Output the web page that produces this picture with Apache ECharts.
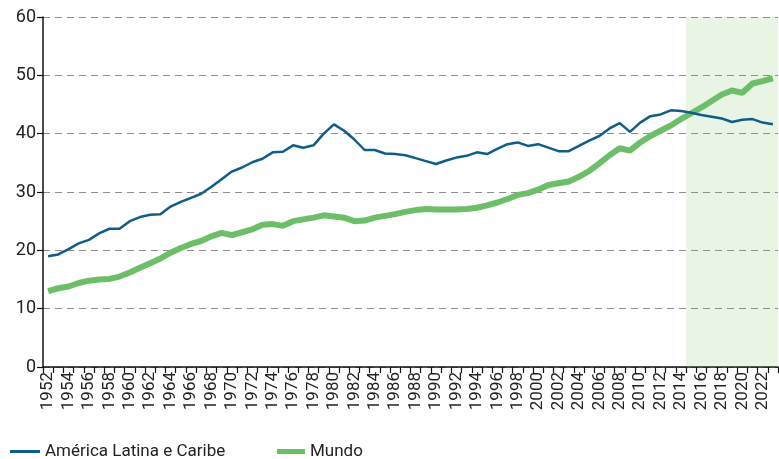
<!DOCTYPE html>
<html>
<head>
<meta charset="utf-8">
<script src="https://cdn.jsdelivr.net/npm/echarts@6/dist/echarts.min.js"></script>
<style>
html,body{margin:0;padding:0;background:#fff;}
#chart{width:779px;height:459px;}
</style>
</head>
<body>
<div id="chart"></div>
<script>
const years = [];
for (let y = 1952; y <= 2023; y++) years.push(String(y));

const americaLatina = [
  19.0, 19.3, 20.2, 21.2, 21.8, 22.9, 23.7, 23.7, 25.0, 25.7,
  26.1, 26.2, 27.5, 28.3, 29.0, 29.7, 30.9, 32.2, 33.5, 34.2,
  35.1, 35.7, 36.8, 36.9, 38.0, 37.6, 38.0, 40.0, 41.6, 40.5,
  39.0, 37.2, 37.2, 36.6, 36.5, 36.3, 35.8, 35.3, 34.8, 35.4,
  35.9, 36.2, 36.8, 36.5, 37.4, 38.2, 38.5, 37.9, 38.2, 37.6,
  37.0, 37.0, 37.9, 38.8, 39.6, 40.9, 41.8, 40.3, 41.9, 43.0,
  43.3, 44.0, 43.9, 43.6, 43.2, 42.9, 42.6, 42.0, 42.4, 42.5,
  41.9, 41.6
];

const mundo = [
  13.0, 13.5, 13.8, 14.4, 14.8, 15.0, 15.1, 15.5, 16.2, 17.0,
  17.8, 18.6, 19.6, 20.4, 21.1, 21.6, 22.4, 23.0, 22.6, 23.1,
  23.6, 24.4, 24.5, 24.2, 25.0, 25.3, 25.6, 26.0, 25.8, 25.6,
  25.0, 25.1, 25.6, 25.9, 26.2, 26.6, 26.9, 27.1, 27.0, 27.0,
  27.0, 27.1, 27.3, 27.7, 28.2, 28.8, 29.5, 29.8, 30.4, 31.2,
  31.5, 31.8, 32.6, 33.6, 34.9, 36.3, 37.5, 37.1, 38.5, 39.6,
  40.5, 41.4, 42.5, 43.5, 44.5, 45.6, 46.7, 47.4, 47.0, 48.6,
  49.0, 49.5
];

const yTicks = [0, 10, 20, 30, 40, 50, 60];
const shadeFrom = 2015;
const yMax = 60;

const FONT = "Roboto, 'Liberation Sans', sans-serif";
const BLUE = '#0f5d89';
const GREEN = '#6cbf68';

const shadeData = years.map(y => (Number(y) >= shadeFrom ? yMax : null));

const chart = echarts.init(document.getElementById('chart'), null, {renderer: 'canvas'});
chart.setOption({
  animation: false,
  backgroundColor: '#ffffff',
  grid: {left: 43, right: 1, top: 17, bottom: 92, containLabel: false},
  legend: [
    {
      data: [{name: 'América Latina e Caribe', icon: 'rect'}],
      left: 10, top: 443, padding: 0,
      itemWidth: 30, itemHeight: 3, itemGap: 6,
      textStyle: {fontFamily: FONT, fontSize: 17, color: '#222'}
    },
    {
      data: [{name: 'Mundo', icon: 'rect'}],
      left: 277, top: 443, padding: 0,
      itemWidth: 28, itemHeight: 5, itemGap: 6,
      textStyle: {fontFamily: FONT, fontSize: 17, color: '#222'}
    }
  ],
  xAxis: {
    type: 'category',
    data: years,
    boundaryGap: true,
    axisLine: {show: true, lineStyle: {color: '#111', width: 1.5}},
    axisTick: {show: true, interval: 0, length: 6, lineStyle: {color: '#111', width: 1.2}},
    axisLabel: {
      interval: 1, rotate: 90, margin: 5,
      fontFamily: FONT, fontSize: 17, color: '#222'
    },
    splitLine: {show: false}
  },
  yAxis: {
    type: 'value',
    min: 0, max: yMax, interval: 10,
    axisLine: {show: true, lineStyle: {color: '#111', width: 1.5}},
    axisTick: {show: true, length: 6, lineStyle: {color: '#111', width: 1.2}},
    axisLabel: {
      margin: 7, fontFamily: FONT, fontSize: 18, color: '#222',
      formatter: v => (yTicks.includes(v) ? String(v) : '')
    },
    splitLine: {show: true, lineStyle: {color: '#8c8c8c', type: [7, 5], width: 1}}
  },
  series: [
    {
      name: 'shade',
      type: 'bar',
      data: shadeData,
      barWidth: '100%',
      barCategoryGap: '0%',
      silent: true,
      itemStyle: {color: 'rgba(120,195,100,0.17)'},
      z: 1
    },
    {
      name: 'América Latina e Caribe',
      type: 'line',
      data: americaLatina,
      symbol: 'none',
      lineStyle: {color: BLUE, width: 2.5},
      itemStyle: {color: BLUE},
      z: 4
    },
    {
      name: 'Mundo',
      type: 'line',
      data: mundo,
      symbol: 'none',
      lineStyle: {color: GREEN, width: 6},
      itemStyle: {color: GREEN},
      z: 3
    }
  ]
});
</script>
</body>
</html>
